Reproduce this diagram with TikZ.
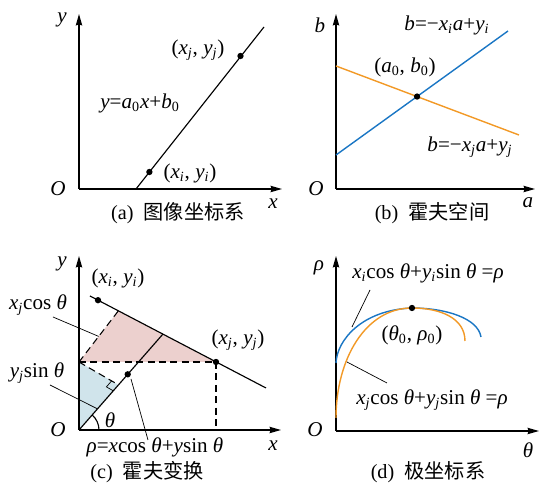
\documentclass[tikz,border=0pt]{standalone}
\usepackage{fontspec}
\setmainfont{Liberation Serif}
\newfontfamily\cjk{Noto Sans CJK SC}
\usetikzlibrary{arrows.meta,calc}

\definecolor{hblue}{RGB}{26,118,196}
\definecolor{horange}{RGB}{242,153,38}
\definecolor{hpink}{RGB}{236,208,206}
\definecolor{hcyan}{RGB}{208,228,235}

% italic variables and subscripts in the text font
\newcommand\vi[1]{\textit{#1}}
\newcommand\sbi[1]{\textsubscript{\textit{#1}}}
\newcommand\sbr[1]{\textsubscript{#1}}
\newcommand\subcaption[2]{(#1)\hspace{0.5em}{\cjk #2}}

\tikzset{
  axis/.style={line width=0.8pt, -{Stealth[length=6.5pt,width=3.6pt,inset=0.6pt]}},
  thinline/.style={line width=0.65pt},
  colline/.style={line width=0.8pt},
  dot/.style={circle, fill, inner sep=0pt, minimum size=3.6pt},
  leader/.style={line width=0.4pt},
  dashline/.style={line width=0.6pt, dash pattern=on 4pt off 2.5pt},
  lbl/.style={font=\fontsize{12}{14}\selectfont, inner sep=1pt},
  subcap/.style={font=\fontsize{11.5}{13}\selectfont, inner sep=1pt}
}

\begin{document}
\begin{tikzpicture}[x=0.02cm, y=-0.02cm]
  \useasboundingbox (0,0) rectangle (539,489);

  % --- (a) image coordinates ---
  \coordinate (Oa) at (79,189);
  \coordinate (ya) at (79,14);
  \coordinate (xa) at (282,189);
  \draw[axis] (Oa) -- (ya);
  \draw[axis] (Oa) -- (xa);
  \node[lbl] (Oal) at (58,189) {\vi{O}};
  \node[lbl] (yal) at (62,20) {\vi{y}};
  \node[lbl] (xal) at (273,204) {\vi{x}};
  \coordinate (la1) at (136,189);
  \coordinate (la2) at (264,27);
  \draw[thinline] (la1) -- (la2);
  \node[dot] (pia) at (149.4,172) {};
  \node[dot] (pja) at (240.5,56) {};
  \node[lbl] (pjal) at (198,50) {(\vi{x}\sbi{j}, \vi{y}\sbi{j})};
  \node[lbl] (eqa) at (140,103) {\vi{y}=\vi{a}\sbr{0}\vi{x}+\vi{b}\sbr{0}};
  \node[lbl] (pial) at (190,173) {(\vi{x}\sbi{i}, \vi{y}\sbi{i})};
  \node[subcap] (capa) at (178,213) {\subcaption{a}{图像坐标系}};

  % --- (b) Hough space ---
  \coordinate (Ob) at (336,189);
  \coordinate (yb) at (336,14);
  \coordinate (xb) at (535,189);
  \draw[axis] (Ob) -- (yb);
  \draw[axis] (Ob) -- (xb);
  \node[lbl] (Obl) at (316,189) {\vi{O}};
  \node[lbl] (ybl) at (320,25) {\vi{b}};
  \node[lbl] (xbl) at (528,203) {\vi{a}};
  \coordinate (bi1) at (336,155);
  \coordinate (bi2) at (508,31);
  \coordinate (bj1) at (336,66);
  \coordinate (bj2) at (519,135);
  \draw[colline, hblue] (bi1) -- (bi2);
  \draw[colline, horange] (bj1) -- (bj2);
  \node[dot] (ab) at (intersection of bi1--bi2 and bj1--bj2) {};
  \node[lbl] (eqbi) at (447,25) {\vi{b}=−\vi{x}\sbi{i}\vi{a}+\vi{y}\sbi{i}};
  \node[lbl] (abl) at (405,67) {(\vi{a}\sbr{0}, \vi{b}\sbr{0})};
  \node[lbl] (eqbj) at (470,147) {\vi{b}=−\vi{x}\sbi{j}\vi{a}+\vi{y}\sbi{j}};
  \node[subcap] (capb) at (432,213) {\subcaption{b}{霍夫空间}};

  % --- (c) Hough transform ---
  \coordinate (Oc) at (79,430);
  \coordinate (yc) at (79,256);
  \coordinate (xc) at (281,430);
  \coordinate (lc1) at (90,296);
  \coordinate (lc2) at (266,388);
  \coordinate (F) at (163,334);
  \coordinate (Pj) at (216,362);
  \coordinate (A) at (79,362);
  \coordinate (B) at (intersection of A--{$(A)+(80,-104)$} and lc1--lc2);
  \coordinate (C) at ($(Oc)!0.47!(F)$);
  \coordinate (Dx) at (216,430);
  % shaded parts
  \fill[hpink] (A) -- (B) -- (Pj) -- cycle;
  \fill[hcyan] (A) -- (Oc) -- (C) -- cycle;
  % dashed projections
  \draw[dashline] (A) -- (B);
  \draw[dashline] (A) -- (C);
  \draw[dashline] (A) -- (Pj) -- (Dx);
  \path ($(C)!4.5pt!(A)$) coordinate (ra) ($(C)!4.5pt!(Oc)$) coordinate (rb);
  \draw[leader] (ra) -- ($(ra)+(rb)-(C)$) -- (rb);
  % line and normal
  \draw[thinline] (lc1) -- (lc2);
  \draw[thinline] (Oc) -- (F);
  \draw[thinline] ($(Oc)+(0.4cm,0)$) arc[start angle=0, end angle=48.8, radius=0.4cm];
  \draw[axis] (Oc) -- (yc);
  \draw[axis] (Oc) -- (xc);
  \node[dot] (pic) at (98,300.2) {};
  \node[dot] (pjc) at (Pj) {};
  \node[dot] (rhoc) at ($(Oc)!0.58!(F)$) {};
  \node[lbl] (Ocl) at (58,430) {\vi{O}};
  \node[lbl] (ycl) at (62,264) {\vi{y}};
  \node[lbl] (xcl) at (273,446) {\vi{x}};
  \node[lbl] (thc) at (110,420) {\vi{θ}};
  \node[lbl] (picl) at (118,278) {(\vi{x}\sbi{i}, \vi{y}\sbi{i})};
  \node[lbl] (pjcl) at (238,340) {(\vi{x}\sbi{j}, \vi{y}\sbi{j})};
  \node[lbl] (xcos) at (38,305) {\vi{x}\sbi{j}cos \vi{θ}};
  \node[lbl] (ysin) at (37,373) {\vi{y}\sbi{j}sin \vi{θ}};
  \node[lbl] (rhoeq) at (155,447) {\vi{ρ}=\vi{x}cos \vi{θ}+\vi{y}sin \vi{θ}};
  \coordinate (xcos0) at (53,317);
  \coordinate (ysin0) at (50,385);
  \coordinate (rho0) at (148,440);
  \coordinate (rho1) at (131,379);
  \draw[leader] (xcos0) -- ($(A)!0.5!(B)$);
  \draw[leader] (ysin0) -- ($(Oc)!0.22!(F)$);
  \draw[leader] (rho0) -- (rho1);
  \node[subcap] (capc) at (147,472) {\subcaption{c}{霍夫变换}};

  % --- (d) polar coordinates ---
  \coordinate (Od) at (336,431);
  \coordinate (yd) at (336,256);
  \coordinate (xd) at (539,431);
  \draw[axis] (Od) -- (yd);
  \draw[axis] (Od) -- (xd);
  \node[lbl] (Odl) at (315,430) {\vi{O}};
  \node[lbl] (ydl) at (319,268) {\vi{ρ}};
  \node[lbl] (xdl) at (528,450) {\vi{θ}};
  \coordinate (pk) at (412,308);
  \draw[colline, hblue] (336,363) .. controls (337,340) and (362,310) .. (pk)
    .. controls (445,308) and (478,318) .. (481,337);
  \draw[colline, horange] (336,418) .. controls (336,360) and (365,308) .. (pk)
    .. controls (440,308) and (465,318) .. (465,341);
  \node[dot] (pkd) at (pk) {};
  \node[lbl] (eqdi) at (428,273) {\vi{x}\sbi{i}cos \vi{θ}+\vi{y}\sbi{i}sin \vi{θ} =\vi{ρ}};
  \node[lbl] (eqdj) at (432,400) {\vi{x}\sbi{j}cos \vi{θ}+\vi{y}\sbi{j}sin \vi{θ} =\vi{ρ}};
  \node[lbl] (pkl) at (412,335) {(\vi{θ}\sbr{0}, \vi{ρ}\sbr{0})};
  \coordinate (di0) at (370,290);
  \coordinate (di1) at (352,327);
  \coordinate (dj0) at (387,383);
  \coordinate (dj1) at (347,362);
  \draw[leader] (di0) -- (di1);
  \draw[leader] (dj0) -- (dj1);
  \node[subcap] (capd) at (428,472) {\subcaption{d}{极坐标系}};
\end{tikzpicture}
\end{document}
